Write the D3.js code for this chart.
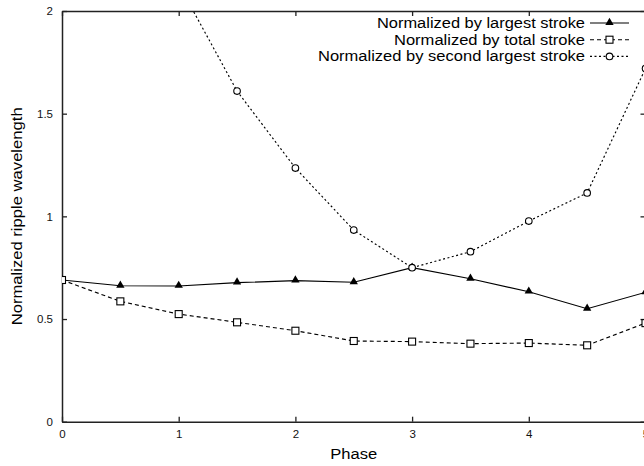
<!DOCTYPE html>
<html>
<head>
    <meta charset="utf-8">
    <title>Ripple wavelength</title>
    <script src="https://cdn.jsdelivr.net/npm/d3@7"></script>
    <style>
        body { margin: 0; background: #fff; }
    </style>
</head>
<body>
<div id="chart"></div>
<script type="text/javascript">
    // data
    let phase = [0, 0.5, 1, 1.5, 2, 2.5, 3, 3.5, 4, 4.5, 5];
    let largest = [0.69, 0.662, 0.661, 0.677, 0.687, 0.679, 0.75, 0.696, 0.633, 0.55, 0.63];
    let total = [0.69, 0.586, 0.524, 0.484, 0.443, 0.393, 0.39, 0.38, 0.383, 0.372, 0.48];
    let secondPhase = [1, 1.5, 2, 2.5, 3, 3.5, 4, 4.5, 5];
    let second = [2.13, 1.61, 1.235, 0.933, 0.75, 0.828, 0.977, 1.114, 1.72];

    let xTicks = [0, 1, 2, 3, 4, 5];
    let yTicks = [0, 0.5, 1, 1.5, 2];
    let legendLabels = ["Normalized by largest stroke", "Normalized by total stroke", "Normalized by second largest stroke"];

    let margin = {top: 11, right: -1.5, bottom: 44.3, left: 62};
    let W = 644, H = 466;
    let w = W - margin.left - margin.right;
    let h = H - margin.top - margin.bottom;
    let font = "Liberation Sans, Arial, sans-serif";

    let xScale = d3.scaleLinear().domain([0, 5]).range([0, w]);
    let yScale = d3.scaleLinear().domain([0, 2]).range([h, 0]);

    let svg = d3.select("#chart")
        .append("svg")
            .attr("width", W)
            .attr("height", H)
            .style("display", "block")
        .append("g")
            .attr("transform", "translate(" + margin.left + "," + margin.top + ")");

    svg.append("defs").append("clipPath")
        .attr("id", "clip")
        .append("rect")
            .attr("width", w)
            .attr("height", h);

    let fmt = d3.format("");

    // axes with inward ticks, mirrored on top and right
    let xAxis = d3.axisBottom(xScale).tickValues(xTicks).tickFormat(fmt).tickSizeInner(-5).tickSizeOuter(0).tickPadding(8);
    let yAxis = d3.axisLeft(yScale).tickValues(yTicks).tickFormat(fmt).tickSizeInner(-5).tickSizeOuter(0).tickPadding(9);
    let xTop = d3.axisTop(xScale).tickValues(xTicks).tickFormat("").tickSizeInner(-5).tickSizeOuter(0);
    let yRight = d3.axisRight(yScale).tickValues(yTicks).tickFormat("").tickSizeInner(-5).tickSizeOuter(0);

    let gx = svg.append("g").attr("transform", "translate(0," + h + ")").call(xAxis);
    let gy = svg.append("g").call(yAxis);
    let gt = svg.append("g").call(xTop);
    let gr = svg.append("g").attr("transform", "translate(" + w + ",0)").call(yRight);

    [gx, gy, gt, gr].forEach(function(g) {
        g.select(".domain").attr("stroke", "#222").attr("stroke-width", 1.5);
        g.selectAll(".tick line").attr("stroke", "#222").attr("stroke-width", 1.3);
        g.selectAll("text")
            .attr("font-family", font)
            .attr("font-size", "11.5px")
            .attr("fill", "#111");
    });

    let line = d3.line()
        .x(function(d) { return xScale(d[0]); })
        .y(function(d) { return yScale(d[1]); });

    let series = [
        {pts: d3.zip(phase, largest), dash: null, marker: "triangle"},
        {pts: d3.zip(phase, total), dash: "4,3", marker: "square"},
        {pts: d3.zip(secondPhase, second), dash: "2,2.5", marker: "circle"}
    ];

    let plot = svg.append("g").attr("clip-path", "url(#clip)");

    function drawMarker(g, type, x, y) {
        if (type === "triangle") {
            g.append("path")
                .attr("d", d3.symbol().type(d3.symbolTriangle).size(30)())
                .attr("transform", "translate(" + x + "," + (y - 0.5) + ")")
                .attr("fill", "#000");
        } else if (type === "square") {
            g.append("rect")
                .attr("x", x - 3.5).attr("y", y - 3.5)
                .attr("width", 7).attr("height", 7)
                .attr("fill", "#fff")
                .attr("stroke", "#000").attr("stroke-width", 1.1);
        } else {
            g.append("circle")
                .attr("cx", x).attr("cy", y).attr("r", 3.3)
                .attr("fill", "#fff")
                .attr("stroke", "#000").attr("stroke-width", 1.1);
        }
    }

    series.forEach(function(s) {
        plot.append("path")
            .datum(s.pts)
            .attr("d", line)
            .attr("fill", "none")
            .attr("stroke", "#000")
            .attr("stroke-width", 1.15)
            .attr("stroke-dasharray", s.dash);
    });
    series.forEach(function(s) {
        s.pts.forEach(function(p) {
            drawMarker(plot, s.marker, xScale(p[0]), yScale(p[1]));
        });
    });

    // legend (the original font runs wider, so stretch to the measured widths)
    let legendWidths = [208, 191, 267];
    let legend = svg.append("g");
    legendLabels.forEach(function(label, i) {
        let y = 12 + i * 16.7;
        legend.append("text")
            .attr("x", 523 - legendWidths[i])
            .attr("y", y)
            .attr("dy", "0.35em")
            .attr("textLength", legendWidths[i])
            .attr("lengthAdjust", "spacingAndGlyphs")
            .attr("font-family", font)
            .attr("font-size", "14px")
            .attr("fill", "#000")
            .text(label);
        legend.append("line")
            .attr("x1", 528).attr("x2", 567)
            .attr("y1", y).attr("y2", y)
            .attr("stroke", "#000")
            .attr("stroke-width", 1.1)
            .attr("stroke-dasharray", series[i].dash);
        drawMarker(legend, series[i].marker, 547.5, y);
    });

    // axis titles
    svg.append("text")
        .attr("x", w / 2 - 23.5)
        .attr("y", h + 37)
        .attr("textLength", 47)
        .attr("lengthAdjust", "spacingAndGlyphs")
        .attr("font-family", font)
        .attr("font-size", "14px")
        .text("Phase");

    svg.append("text")
        .attr("transform", "rotate(-90)")
        .attr("x", 0 - (h / 2) - 109)
        .attr("y", 22 - margin.left)
        .attr("textLength", 218)
        .attr("lengthAdjust", "spacingAndGlyphs")
        .attr("font-family", font)
        .attr("font-size", "14px")
        .text("Normalized ripple wavelength");
</script>
</body>
</html>
